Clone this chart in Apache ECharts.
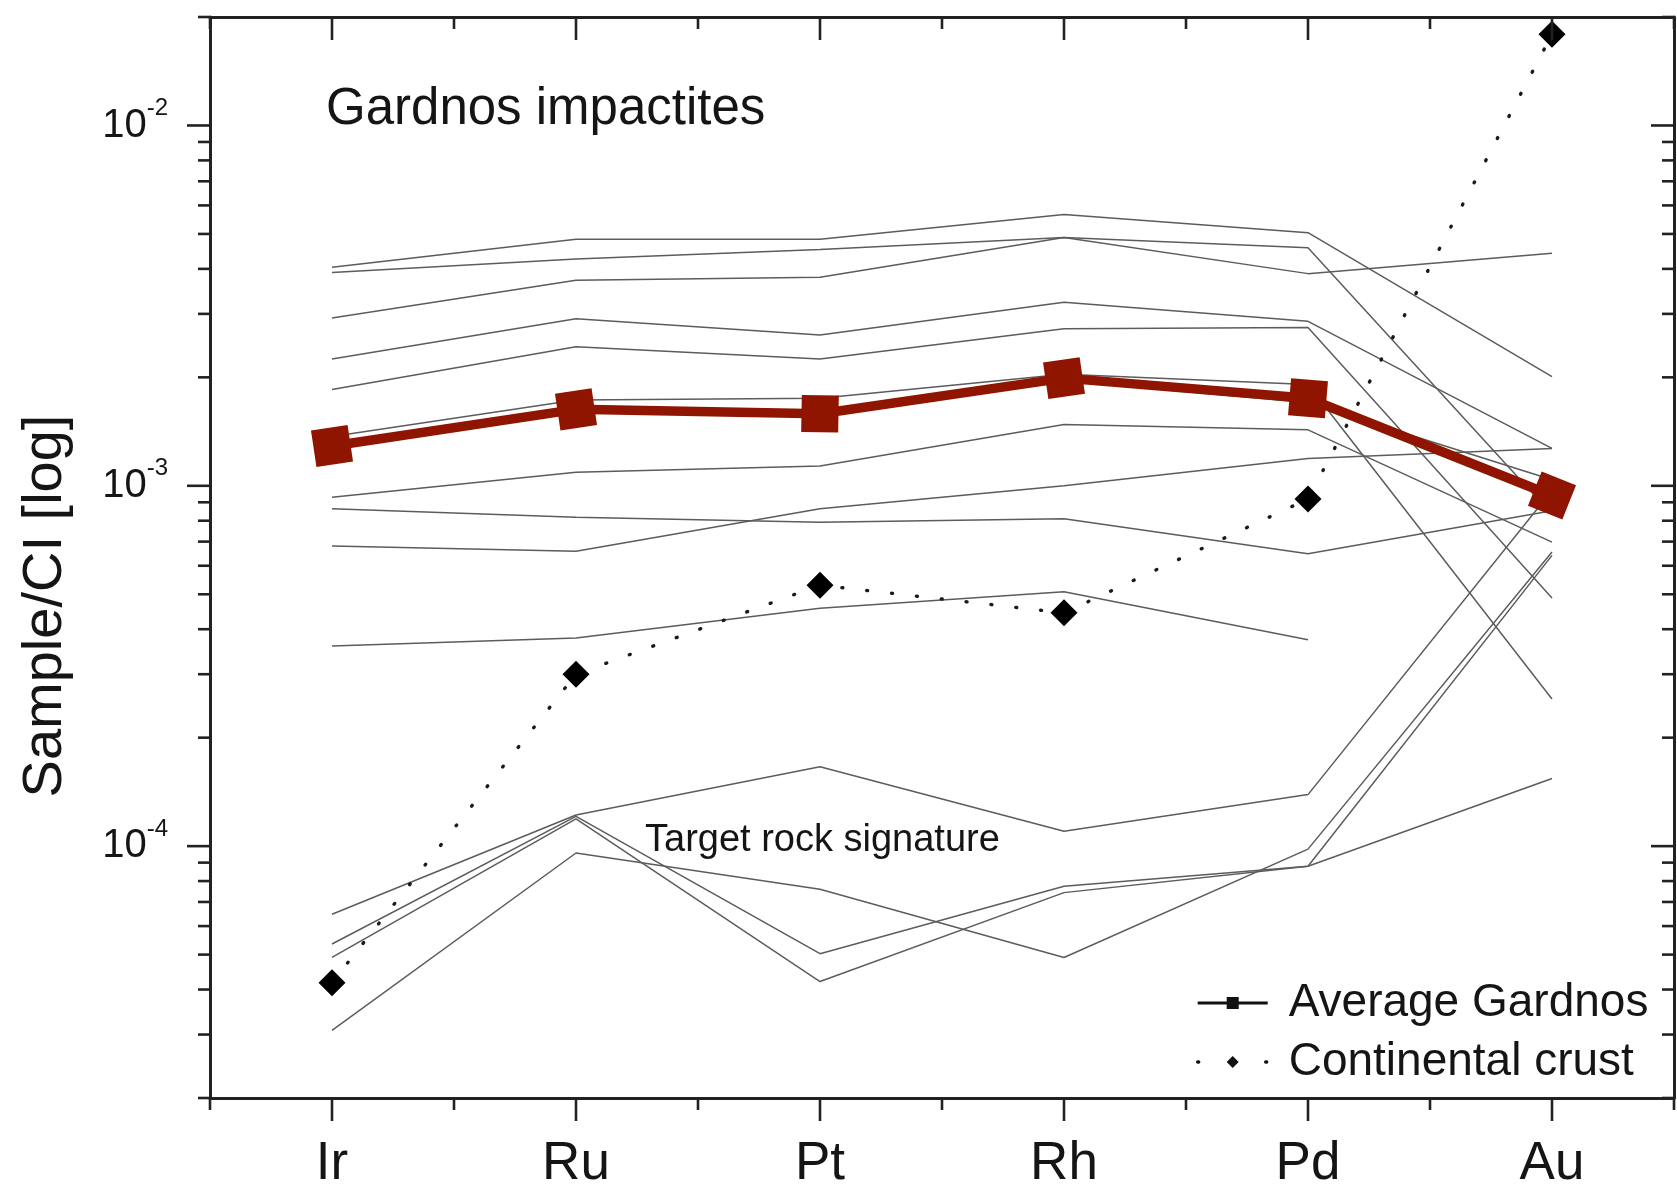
<!DOCTYPE html>
<html>
<head>
<meta charset="utf-8">
<title>Gardnos impactites – CI-normalised PGE and Au</title>
<script src="https://cdn.jsdelivr.net/npm/echarts@6/dist/echarts.min.js"></script>
<style>
  html, body { margin: 0; padding: 0; background: #ffffff; }
  #chart { width: 1677px; height: 1191px; }
</style>
</head>
<body>
<div id="chart"></div>
<script>
// Elements along the x axis
const elements = ['Ir', 'Ru', 'Pt', 'Rh', 'Pd', 'Au'];

// CI-normalised averages
const averageGardnos   = [1.29e-3, 1.63e-3, 1.585e-3, 1.99e-3, 1.75e-3, 9.4e-4];
const continentalCrust = [4.18e-5, 3.0e-4, 5.3e-4, 4.44e-4, 9.19e-4, 1.79e-2];

// Individual impactite samples (Ir, Ru, Pt, Rh, Pd, Au)
const sampleA = [4.04e-3, 4.83e-3, 4.83e-3, 5.66e-3, 5.04e-3, 2.01e-3];
const sampleB = [3.91e-3, 4.26e-3, 4.53e-3, 4.89e-3, 4.58e-3, 8.32e-4];
const sampleC = [2.92e-3, 3.72e-3, 3.79e-3, 4.89e-3, 3.88e-3, 4.42e-3];
const sampleD = [2.25e-3, 2.91e-3, 2.62e-3, 3.23e-3, 2.86e-3, 1.27e-3];
const sampleE = [1.85e-3, 2.43e-3, 2.25e-3, 2.73e-3, 2.75e-3, 4.88e-4];
const sampleF = [1.37e-3, 1.73e-3, 1.75e-3, 2.04e-3, 1.91e-3, 2.56e-4];
const sampleG = [1.27e-3, 1.60e-3, 1.57e-3, 1.96e-3, 1.70e-3, 1.04e-3];
const sampleH = [9.29e-4, 1.09e-3, 1.135e-3, 1.48e-3, 1.43e-3, 6.98e-4];
const sampleI = [6.81e-4, 6.58e-4, 8.64e-4, 1.0e-3, 1.19e-3, 1.27e-3];
const sampleJ = [8.63e-4, 8.18e-4, 7.92e-4, 8.10e-4, 6.48e-4, 8.53e-4];
const sampleK = [3.59e-4, 3.78e-4, 4.57e-4, 5.08e-4, 3.74e-4, null];
const sampleL = [6.47e-5, 1.22e-4, 1.66e-4, 1.10e-4, 1.39e-4, 9.7e-4];
const sampleM = [5.35e-5, 1.21e-4, 5.03e-5, 7.74e-5, 8.79e-5, 6.41e-4];
const sampleN = [4.91e-5, 1.19e-4, 4.21e-5, 7.43e-5, 8.79e-5, 1.54e-4];
const sampleO = [3.08e-5, 9.57e-5, 7.59e-5, 4.91e-5, 9.81e-5, 6.55e-4];

const samples = [sampleA, sampleB, sampleC, sampleD, sampleE, sampleF, sampleG,
                 sampleH, sampleI, sampleJ, sampleK, sampleL, sampleM, sampleN, sampleO];

// Log axis range and tick positions
const yMin = 2e-5;
const yMax = 2e-2;
const yMajorTicks = [1e-4, 1e-3, 1e-2];
const yMinorTicks = [
  2e-5, 3e-5, 4e-5, 5e-5, 6e-5, 7e-5, 8e-5, 9e-5,
  2e-4, 3e-4, 4e-4, 5e-4, 6e-4, 7e-4, 8e-4, 9e-4,
  2e-3, 3e-3, 4e-3, 5e-3, 6e-3, 7e-3, 8e-3, 9e-3,
  2e-2
];

const FONT = '"Liberation Sans", Arial, Helvetica, sans-serif';
const AXIS_COLOR = '#222222';
const TEXT_COLOR = '#151515';
const RED = '#8f1500';
const GREY = '#5c5c5c';

// Tick items: [categoryIndex, value, kind]
// kind 0 = y major, 1 = y minor, 2 = x major, 3 = x minor (left band edge), 4 = x minor (right band edge)
const tickItems = [];
yMajorTicks.forEach(v => tickItems.push([0, v, 0]));
yMinorTicks.forEach(v => tickItems.push([0, v, 1]));
elements.forEach((e, i) => {
  tickItems.push([i, yMin, 2]);
  tickItems.push([i, yMin, 3]);
});
tickItems.push([elements.length - 1, yMin, 4]);

function renderTick(params, api) {
  const kind = api.value(2);
  const cs = params.coordSys;
  const style = { stroke: AXIS_COLOR, lineWidth: 2.6 };
  if (kind <= 1) {
    const y = api.coord([0, api.value(1)])[1];
    const len = kind === 0 ? 23 : 12;
    return {
      type: 'group',
      children: [
        { type: 'line', shape: { x1: cs.x - len, y1: y, x2: cs.x, y2: y }, style: style },
        { type: 'line', shape: { x1: cs.x + cs.width - len, y1: y, x2: cs.x + cs.width, y2: y }, style: style }
      ]
    };
  }
  const band = api.size([1, 0], [0, 1e-3])[0];
  let x = api.coord([api.value(0), api.value(1)])[0];
  if (kind === 3) x -= band / 2;
  if (kind === 4) x += band / 2;
  const len = kind === 2 ? 23 : 12;
  const yb = cs.y + cs.height;
  const yt = cs.y;
  return {
    type: 'group',
    children: [
      { type: 'line', shape: { x1: x, y1: yb, x2: x, y2: yb + len }, style: style },
      { type: 'line', shape: { x1: x, y1: yt, x2: x, y2: yt + len }, style: style }
    ]
  };
}

function powerLabel(v) {
  const e = Math.log10(v);
  const r = Math.round(e);
  if (Math.abs(e - r) > 1e-6) return '';
  return '{b|10}{s|' + r + '}';
}

const sampleSeries = samples.map((s, i) => ({
  name: 'sample ' + (i + 1),
  type: 'line',
  data: s,
  symbol: 'none',
  silent: true,
  connectNulls: false,
  lineStyle: { color: GREY, width: 1.5 },
  z: 2
}));

const option = {
  animation: false,
  backgroundColor: '#ffffff',
  grid: { left: 210, top: 17, width: 1464, height: 1090 },
  xAxis: [
    {
      type: 'category',
      data: elements,
      position: 'bottom',
      boundaryGap: true,
      axisLine: { show: true, lineStyle: { color: AXIS_COLOR, width: 3 } },
      axisTick: { show: false },
      axisLabel: { fontFamily: FONT, fontSize: 53, color: TEXT_COLOR, margin: 40 },
      splitLine: { show: false }
    },
    {
      type: 'category',
      data: elements,
      position: 'top',
      boundaryGap: true,
      axisLine: { show: true, lineStyle: { color: AXIS_COLOR, width: 3 } },
      axisTick: { show: false },
      axisLabel: { show: false },
      splitLine: { show: false }
    }
  ],
  yAxis: [
    {
      type: 'log',
      logBase: 10,
      min: yMin,
      max: yMax,
      position: 'left',
      axisLine: { show: true, lineStyle: { color: AXIS_COLOR, width: 3 } },
      axisTick: { show: false },
      splitLine: { show: false },
      minorTick: { show: false },
      axisLabel: {
        margin: 42,
        formatter: powerLabel,
        rich: {
          b: { fontFamily: FONT, fontSize: 40, color: TEXT_COLOR, lineHeight: 58 },
          s: { fontFamily: FONT, fontSize: 24, color: TEXT_COLOR, lineHeight: 24, verticalAlign: 'top' }
        }
      }
    },
    {
      type: 'log',
      logBase: 10,
      min: yMin,
      max: yMax,
      position: 'right',
      axisLine: { show: true, lineStyle: { color: AXIS_COLOR, width: 3 } },
      axisTick: { show: false },
      axisLabel: { show: false },
      splitLine: { show: false }
    }
  ],
  legend: {
    orient: 'vertical',
    left: 1196,
    top: 980,
    padding: 0,
    itemGap: 13,
    itemWidth: 70,
    itemHeight: 15,
    symbolRotate: 0,
    selectedMode: false,
    textStyle: { fontFamily: FONT, fontSize: 46, color: TEXT_COLOR, padding: [0, 0, 0, 16] },
    data: [
      { name: 'Average Gardnos', itemStyle: { color: '#111111' }, lineStyle: { color: '#111111', width: 3 } },
      { name: 'Continental crust', itemStyle: { color: '#111111' },
        lineStyle: { color: '#111111', width: 3.4, type: [1, 33], cap: 'round' } }
    ]
  },
  graphic: [
    {
      type: 'text', x: 46, y: 606, rotation: Math.PI / 2,
      style: { text: 'Sample/CI [log]', font: '56px ' + FONT, fill: TEXT_COLOR,
               align: 'center', textAlign: 'center', verticalAlign: 'middle', textVerticalAlign: 'middle' }
    },
    {
      type: 'text', x: 326, y: 110,
      style: { text: 'Gardnos impactites', font: '51px ' + FONT, fill: TEXT_COLOR,
               verticalAlign: 'middle', textVerticalAlign: 'middle' }
    },
    {
      type: 'text', x: 645, y: 841,
      style: { text: 'Target rock signature', font: '38px ' + FONT, fill: TEXT_COLOR,
               verticalAlign: 'middle', textVerticalAlign: 'middle' }
    }
  ],
  series: sampleSeries.concat([
    {
      id: 'crust',
      name: 'Continental crust',
      type: 'line',
      data: continentalCrust,
      symbol: 'diamond',
      symbolSize: 27,
      showAllSymbol: true,
      lineStyle: { color: '#1a1a1a', width: 3.4, type: [1, 24], cap: 'round' },
      itemStyle: { color: '#000000' },
      z: 4
    },
    {
      id: 'avg',
      name: 'Average Gardnos',
      type: 'line',
      data: averageGardnos,
      symbol: 'rect',
      symbolSize: 37,
      showAllSymbol: true,
      lineStyle: { color: RED, width: 9.5 },
      itemStyle: { color: RED },
      z: 5
    },
    {
      id: 'ticks',
      type: 'custom',
      coordinateSystem: 'cartesian2d',
      xAxisIndex: 0,
      yAxisIndex: 0,
      silent: true,
      clip: false,
      z: 10,
      encode: { x: 0, y: 1 },
      data: tickItems,
      renderItem: renderTick
    }
  ])
};

const chart = echarts.init(document.getElementById('chart'), null, { renderer: 'canvas' });
chart.setOption(option);

// Square markers of the average follow the direction of the incoming segment
const pts = averageGardnos.map((v, i) => chart.convertToPixel({ seriesId: 'avg' }, [i, v]));
const rotatedAvg = averageGardnos.map((v, i) => {
  const a = i === 0 ? pts[0] : pts[i - 1];
  const b = i === 0 ? pts[1] : pts[i];
  const deg = Math.atan2(a[1] - b[1], b[0] - a[0]) * 180 / Math.PI;
  return { value: v, symbolRotate: deg };
});
chart.setOption({ series: [{ id: 'avg', data: rotatedAvg }] });
</script>
</body>
</html>
